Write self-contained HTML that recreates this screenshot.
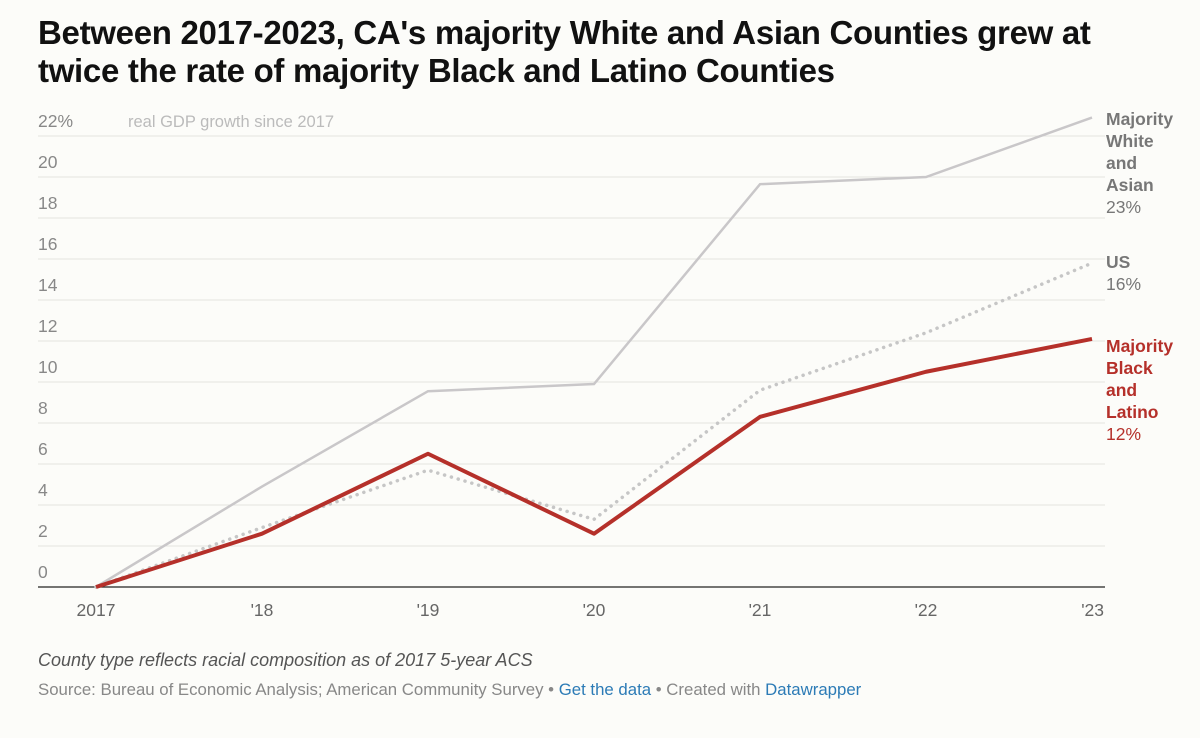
<!DOCTYPE html>
<html><head><meta charset="utf-8"><style>
body{margin:0;background:#fcfcf9;font-family:"Liberation Sans",sans-serif;}
#wrap{position:relative;width:1200px;height:738px;overflow:hidden;}
h1{position:absolute;left:38px;top:14px;margin:0;font-size:33px;line-height:38px;font-weight:bold;color:#111;letter-spacing:-0.3px;}
.note{position:absolute;left:38px;top:650px;font-size:18px;font-style:italic;color:#555;}
.src{position:absolute;left:38px;top:680px;font-size:16.8px;color:#888;}
.src a{color:#2c7bb6;text-decoration:none;}
.lab{position:absolute;left:1106px;font-size:17.5px;line-height:22px;font-weight:bold;}
.lab span{font-weight:normal;}
</style></head><body>
<div id="wrap">
<h1>Between 2017-2023, CA's majority White and Asian Counties grew at<br>twice the rate of majority Black and Latino Counties</h1>
<svg id="svg" width="1200" height="738" style="position:absolute;left:0;top:0"></svg>
<div class="lab" style="top:108px;color:#777">Majority<br>White<br>and<br>Asian<br><span>23%</span></div>
<div class="lab" style="top:251px;color:#777">US<br><span>16%</span></div>
<div class="lab" style="top:335px;color:#b5302a">Majority<br>Black<br>and<br>Latino<br><span>12%</span></div>
<div class="note">County type reflects racial composition as of 2017 5-year ACS</div>
<div class="src">Source: Bureau of Economic Analysis; American Community Survey • <a>Get the data</a> • Created with <a>Datawrapper</a></div>
</div>
<script>
const years=["2017","'18","'19","'20","'21","'22","'23"];
const whiteAsian=[0,4.9,9.55,9.9,19.65,20,22.9];
const us=[0,2.9,5.7,3.3,9.6,12.4,15.8];
const blackLatino=[0,2.6,6.5,2.6,8.3,10.5,12.1];
const yTicks=[0,2,4,6,8,10,12,14,16,18,20,22];
const NS="http://www.w3.org/2000/svg";
const svg=document.getElementById('svg');
const x=i=>96+i*166;
const y=v=>587-v*20.5;
function mk(t,a){const e=document.createElementNS(NS,t);for(const k in a)e.setAttribute(k,a[k]);svg.appendChild(e);return e;}
yTicks.forEach(v=>{
 if(v>0){const l=mk('line',{x1:38,x2:1105,y1:y(v),y2:y(v),stroke:'#e3e3e0','stroke-width':1});
 
 }
 const t=mk('text',{x:38,y:y(v)-9,'font-size':17.5,fill:'#888','font-family':'Liberation Sans'});
 t.textContent=v===22?'22%':String(v);
 
 
});
const st=mk('text',{x:128,y:y(22)-9,'font-size':16.5,fill:'#bbb','font-family':'Liberation Sans'});
st.textContent='real GDP growth since 2017';


const base=mk('line',{x1:38,x2:1105,y1:y(0),y2:y(0),stroke:'#222','stroke-width':1.3});


years.forEach((yr,i)=>{
 const t=mk('text',{x:x(i),y:616,'font-size':17.5,fill:'#666','text-anchor':i===6?'end':'middle','font-family':'Liberation Sans'});
 if(i===6)t.setAttribute('x',x(i)+12);
 t.textContent=yr;
 
 
});
function pts(a){return a.map((v,i)=>x(i)+','+y(v)).join(' ');}
const l1=mk('polyline',{points:pts(whiteAsian),fill:'none',stroke:'#c9c7c9','stroke-width':2.5});


const l2=mk('polyline',{points:pts(us),fill:'none',stroke:'#c6c6c6','stroke-width':3.5,'stroke-dasharray':'0.1 7','stroke-linecap':'round'});


const l3=mk('polyline',{points:pts(blackLatino),fill:'none',stroke:'#b5302a','stroke-width':4,'stroke-linejoin':'round'});


</script>
</body></html>
